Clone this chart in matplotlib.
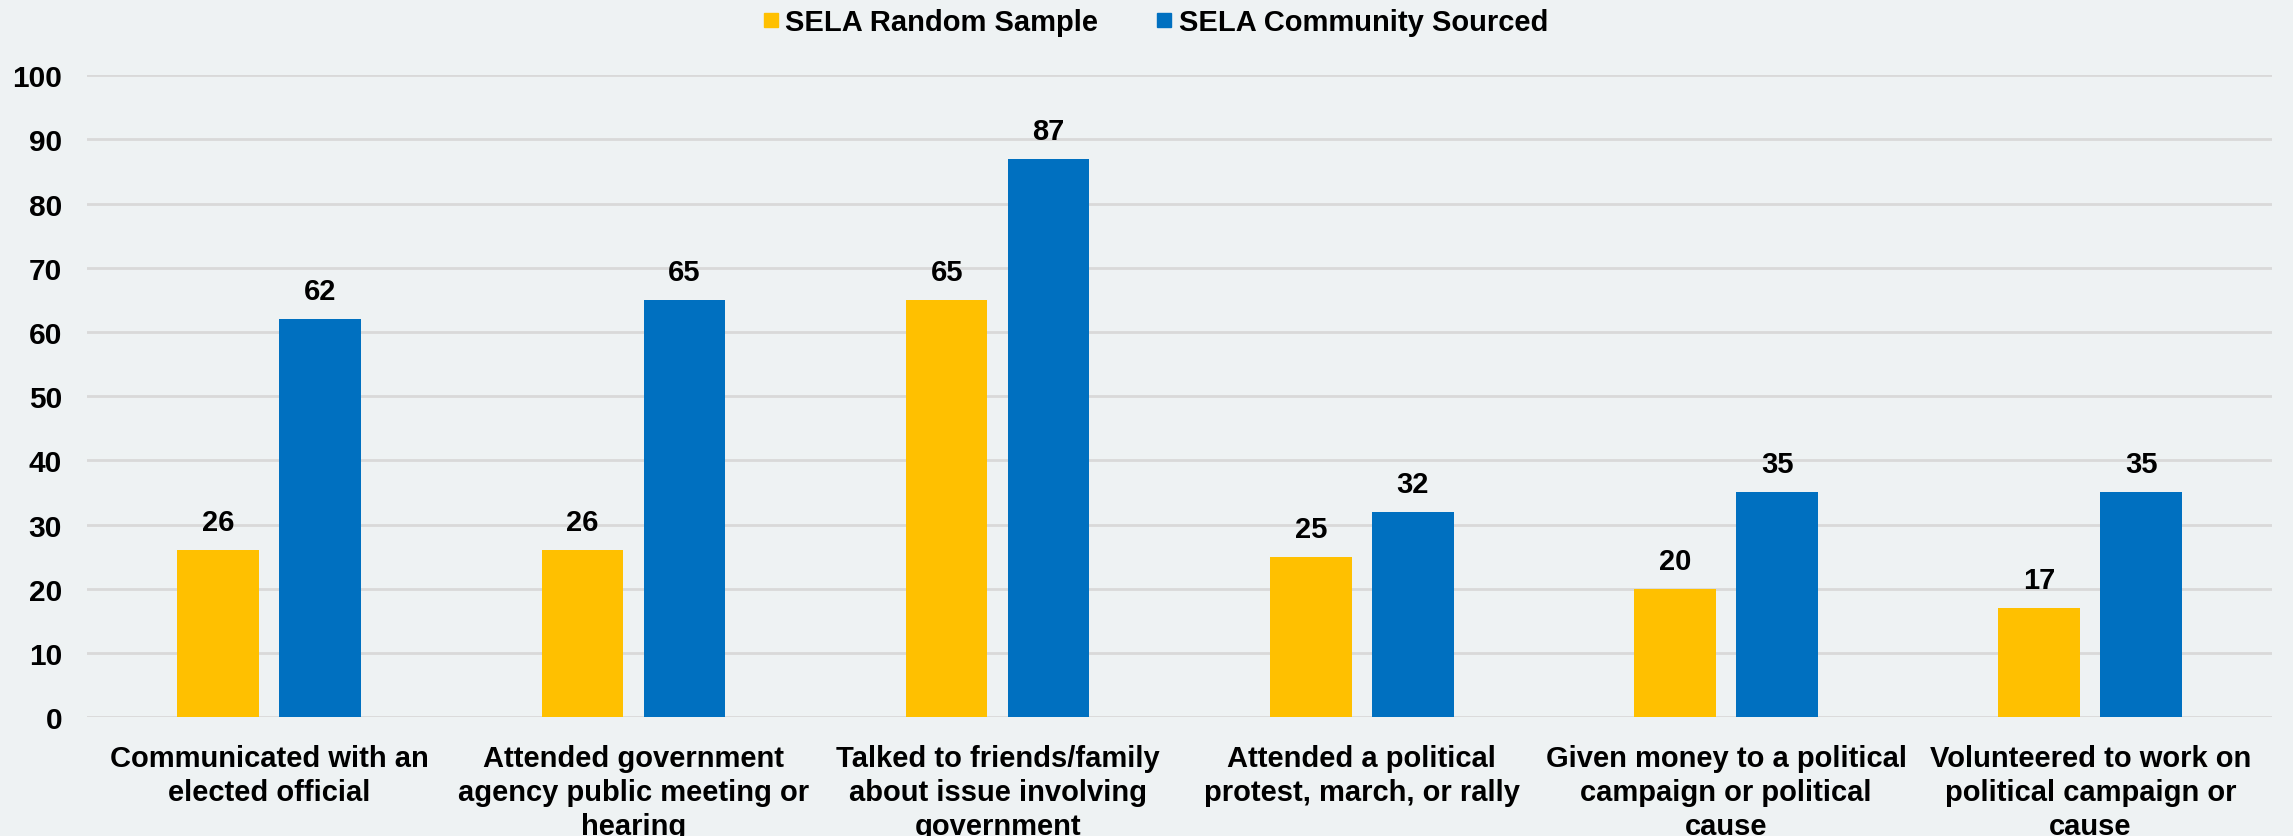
import matplotlib
matplotlib.use("Agg")
import matplotlib.pyplot as plt
from matplotlib.lines import Line2D
import numpy as np

categories = [
    "Communicated with an\nelected official",
    "Attended government\nagency public meeting or\nhearing",
    "Talked to friends/family\nabout issue involving\ngovernment",
    "Attended a political\nprotest, march, or rally",
    "Given money to a political\ncampaign or political\ncause",
    "Volunteered to work on\npolitical campaign or\ncause",
]
random_sample = [26, 26, 65, 25, 20, 17]
community = [62, 65, 87, 32, 35, 35]
series_names = ["SELA Random Sample", "SELA Community Sourced"]
yticks = list(range(0, 101, 10))

BG = "#EEF2F3"
ORANGE = "#FFC000"
BLUE = "#0070C0"
FONT = ["Liberation Sans Narrow", "Liberation Sans", "DejaVu Sans"]
plt.rcParams["font.family"] = FONT
plt.rcParams["font.weight"] = "bold"

fig = plt.figure(figsize=(22.93, 8.37), dpi=100, facecolor=BG)
ax = fig.add_axes([0.038, 0.142, 0.953, 0.767], facecolor=BG)

x = np.arange(len(categories))
w = 0.224
off = 0.14
b1 = ax.bar(x - off, random_sample, w, color=ORANGE, zorder=3)
b2 = ax.bar(x + off, community, w, color=BLUE, zorder=3)

for bars, vals in ((b1, random_sample), (b2, community)):
    for r, v in zip(bars, vals):
        ax.text(r.get_x() + r.get_width() / 2, v + 2.2, str(v), ha="center",
                va="bottom", fontsize=21, fontweight="bold", color="black")

ax.set_xlim(-0.5, len(categories) - 0.5)
ax.set_ylim(0, 100)
ax.set_yticks(yticks)
ax.set_yticklabels([str(t) for t in yticks], fontsize=21.5, fontweight="bold")
ax.yaxis.grid(True, color="#D9D9D9", linewidth=2, zorder=0)
ax.set_xticks(x)
ax.set_xticklabels(categories, fontsize=21, fontweight="bold", linespacing=1.29)
ax.tick_params(axis="both", length=0)
ax.tick_params(axis="x", pad=19)
ax.tick_params(axis="y", pad=18)
for s in ax.spines.values():
    s.set_visible(False)

handles = [Line2D([], [], marker="s", linestyle="none", markersize=10,
                  markerfacecolor=c, markeredgecolor=c) for c in (ORANGE, BLUE)]
fig.legend(handles, series_names, loc="center", bbox_to_anchor=(0.504, 0.972),
           frameon=False, handlelength=0.5, handletextpad=0.25, columnspacing=2.0,
           ncol=2, prop={"family": FONT, "weight": "bold", "size": 21})

fig.savefig("out.png", dpi=100, facecolor=BG)
